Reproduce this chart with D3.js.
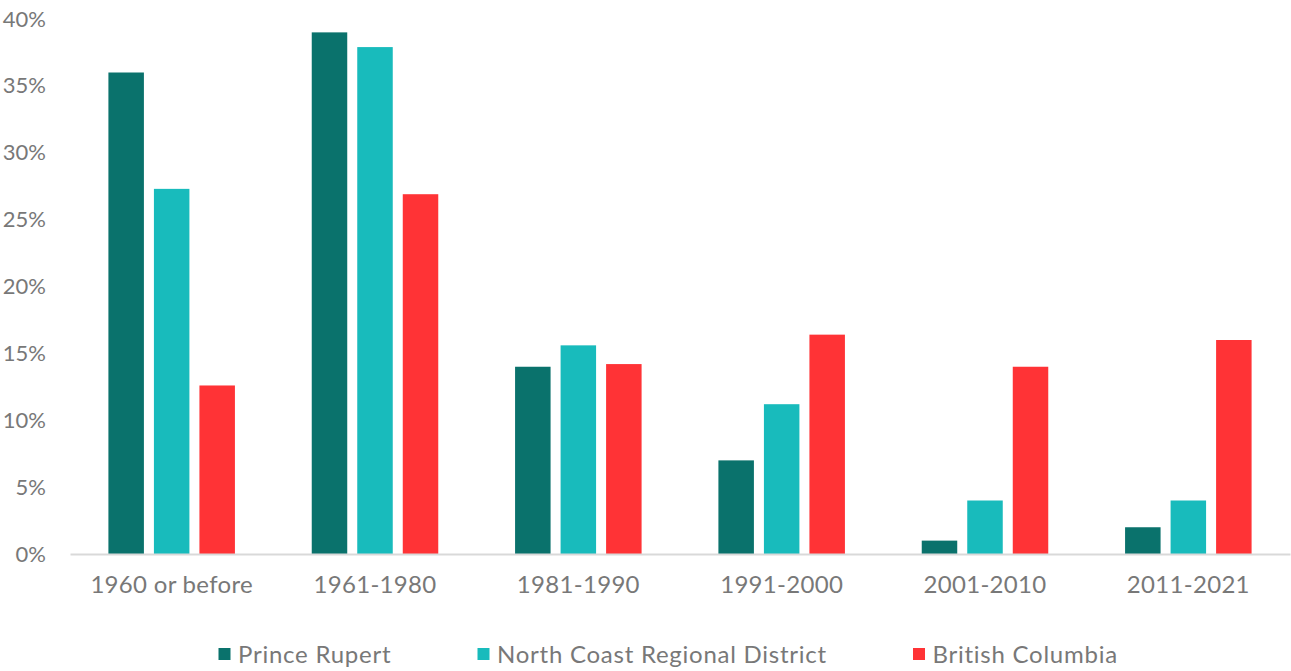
<!DOCTYPE html>
<html>
<head>
<meta charset="utf-8">
<script src="https://cdn.jsdelivr.net/npm/d3@7"></script>
<style>
  html, body { margin: 0; padding: 0; background: #fff; }
  svg text { font-family: "Lato", "Noto Sans", sans-serif; fill: #787878; }
</style>
</head>
<body>
<svg id="chart" width="1291" height="671"></svg>
<script>
// Period of construction for dwellings, share of total stock
const periods = ["1960 or before", "1961-1980", "1981-1990", "1991-2000", "2001-2010", "2011-2021"];
const seriesNames = ["Prince Rupert", "North Coast Regional District", "British Columbia"];
const princeRupert = [36, 39, 14, 7, 1, 2];
const northCoast = [27.3, 37.9, 15.6, 11.2, 4, 4];
const britishColumbia = [12.6, 26.9, 14.2, 16.4, 14, 16];
const yTicks = [0, 5, 10, 15, 20, 25, 30, 35, 40];
const colors = ["#0a726c", "#18bbbc", "#ff3336"];

const seriesValues = [princeRupert, northCoast, britishColumbia];
const rows = periods.map((p, i) => ({
  period: p,
  values: seriesNames.map((s, j) => ({ series: s, value: seriesValues[j][i], idx: j }))
}));

const svg = d3.select("#chart");
const plot = { left: 70, right: 1290, top: 19, bottom: 554 };

const x0 = d3.scaleBand().domain(periods).range([plot.left, plot.right]).padding(0);
const x1 = d3.scaleBand().domain(seriesNames).range([0, x0.bandwidth()])
  .paddingInner(0.22).paddingOuter(0.844);
const y = d3.scaleLinear().domain([0, 40]).range([plot.bottom, plot.top]);

// y-axis labels
const yAxis = d3.axisLeft(y).tickValues(yTicks).tickFormat(d => d + "%").tickSize(0).tickPadding(0);
const gy = svg.append("g").attr("transform", `translate(46,0)`).call(yAxis);
gy.select(".domain").remove();
gy.selectAll("text").style("font-size", "22px").attr("fill", "#787878")
  .style("font-family", "Lato, 'Noto Sans', sans-serif");

// bars
const groups = svg.append("g").selectAll("g").data(rows).join("g")
  .attr("transform", d => `translate(${x0(d.period)},0)`);
groups.selectAll("rect").data(d => d.values).join("rect")
  .attr("x", d => x1(d.series))
  .attr("width", x1.bandwidth())
  .attr("y", d => y(d.value))
  .attr("height", d => y(0) - y(d.value))
  .attr("fill", d => colors[d.idx]);

// baseline and category labels
const xAxis = d3.axisBottom(x0).tickSize(0).tickPadding(22);
const gx = svg.append("g").attr("transform", `translate(0,${plot.bottom})`).call(xAxis);
gx.select(".domain").attr("stroke", "#d9d9d9").attr("stroke-width", 2);
gx.selectAll("text").style("font-size", "24px").style("letter-spacing", "0.3px")
  .attr("fill", "#787878").style("font-family", "Lato, 'Noto Sans', sans-serif");

// legend
const legendX = [218.5, 477.5, 913];
const legend = svg.append("g").selectAll("g").data(seriesNames).join("g")
  .attr("transform", (d, i) => `translate(${legendX[i]},648)`);
legend.append("rect").attr("width", 12).attr("height", 12).attr("fill", (d, i) => colors[i]);
legend.append("text").attr("x", 19.5).attr("y", 15)
  .style("font-size", "24px").style("letter-spacing", "0.75px").text(d => d);
</script>
</body>
</html>
